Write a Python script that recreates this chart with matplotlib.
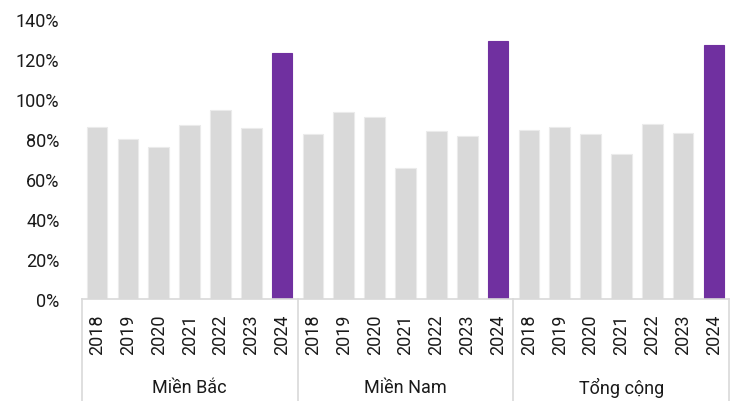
import numpy as np
import matplotlib.pyplot as plt

plt.rcParams['font.family'] = ['Roboto', 'DejaVu Sans']

years = ['2018', '2019', '2020', '2021', '2022', '2023', '2024']
regions = ['Miền Bắc', 'Miền Nam', 'Tổng cộng']
mien_bac = [86.0, 80.2, 76.3, 87.2, 94.8, 85.6, 123.0]
mien_nam = [82.8, 93.8, 91.3, 65.8, 84.0, 81.6, 129.0]
tong_cong = [84.8, 86.1, 82.8, 72.8, 87.6, 83.0, 127.0]

GREY = '#D9D9D9'
PURPLE = '#7030A0'
LINE = '#D9D9D9'
TEXT = '#1a1a1a'

series = [mien_bac, mien_nam, tong_cong]
values = np.concatenate(series)
n = len(years)
x = np.arange(len(values))
colors = [PURPLE if i % n == n - 1 else GREY for i in range(len(values))]

fig = plt.figure(figsize=(7.38, 4.02), dpi=100)
ax = fig.add_axes([0.1107, 0.2527, 0.8775, 0.6968])

ax.bar(x, values, width=0.67, color=colors, edgecolor=[
    '#EBEBEB' if c == GREY else PURPLE for c in colors], linewidth=0.8, zorder=2)

ax.set_xlim(-0.5, len(values) - 0.5)
ax.set_ylim(0, 140)
ax.set_yticks(np.arange(0, 141, 20))
ax.set_yticklabels([f'{v}%' for v in range(0, 141, 20)], fontsize=13, color=TEXT)
ax.tick_params(axis='y', length=0, pad=16)
ax.set_xticks([])
for s in ['top', 'right', 'left']:
    ax.spines[s].set_visible(False)
ax.spines['bottom'].set_color(LINE)
ax.spines['bottom'].set_linewidth(1.2)

# category axis: years rotated, region names below, separators between groups
trans = ax.get_xaxis_transform()
bottom = -0.2527 / 0.6968
for i, v in enumerate(x):
    ax.text(v, -0.05, years[i % n], transform=trans, rotation=90,
            ha='center', va='top', fontsize=13, color=TEXT)
for g, name in enumerate(regions):
    mid = g * n + (n - 1) / 2
    ax.text(mid, -0.313, name, transform=trans, ha='center', va='center',
            fontsize=13, color=TEXT)
for edge in np.arange(len(regions) + 1) * n - 0.5:
    ax.plot([edge, edge], [0, bottom], transform=trans, color=LINE,
            linewidth=1.2, clip_on=False)

fig.savefig('out.png', dpi=100)
